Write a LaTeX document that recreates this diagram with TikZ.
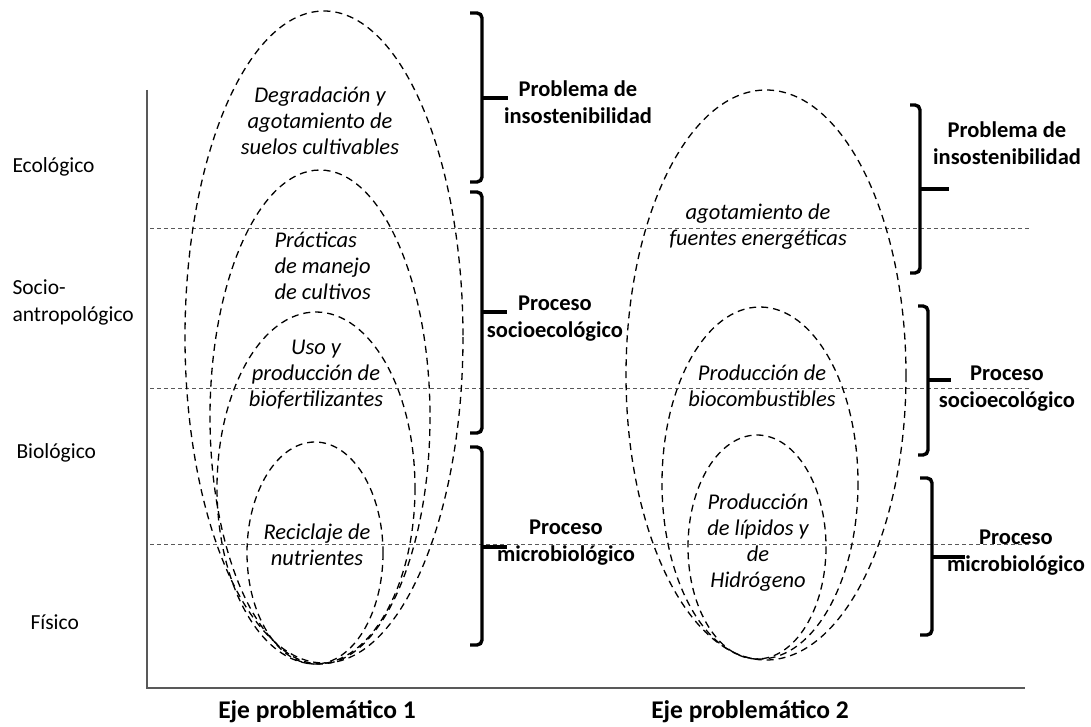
\documentclass[tikz,border=0pt]{standalone}
\usepackage{fontspec}
\setmainfont{Carlito}
\begin{document}
\begin{tikzpicture}[x=1pt,y=-1pt,
  nivel/.style={font=\fontsize{21.5}{27}\selectfont, align=left, anchor=west},
  texto/.style={font=\fontsize{22.5}{26}\selectfont\itshape, align=center},
  rotulo/.style={font=\fontsize{22.5}{27}\selectfont\bfseries, align=center},
  eje/.style={font=\fontsize{25.5}{30}\selectfont\bfseries},
  elipse/.style={line width=1.3pt, dash pattern=on 7pt off 5pt},
  franja/.style={line width=0.8pt, gray!70!black, dash pattern=on 4pt off 3pt},
  corchete/.style={line width=3.4pt, rounded corners=5pt}]
  \useasboundingbox (0,0) rectangle (1091,727);
  \draw[gray!70!black, line width=1.3pt] (147,90) -- (147,688) -- (1025,688);
  \draw[franja] (150,228) -- (1030,228);
  \draw[franja] (150,388) -- (1030,388);
  \draw[franja] (150,544) -- (1030,544);

  \node[nivel] (ecologico) at (9,167) {Ecológico};
  \node[nivel] (socio) at (9,302) {Socio-\\antropológico};
  \node[nivel] (biologico) at (13,453) {Biológico};
  \node[nivel] (fisico) at (27,622) {Físico};

  \draw[elipse] (324,337) ellipse [x radius=139, y radius=326];
  \draw[elipse] (320,417) ellipse [x radius=110, y radius=247];
  \draw[elipse] (316,488) ellipse [x radius=99, y radius=176];
  \draw[elipse] (315,553) ellipse [x radius=68, y radius=111];
  \draw[elipse] (766,375) ellipse [x radius=140, y radius=285];
  \draw[elipse] (760,483) ellipse [x radius=98, y radius=176];
  \draw[elipse] (757,547) ellipse [x radius=69, y radius=112];

  \node[texto] (degradacion) at (320,121) {Degradación y\\agotamiento de\\suelos cultivables};
  \node[texto, align=left, anchor=west] (practicas) at (271,266) {Prácticas\\de manejo\\de cultivos};
  \node[texto] (biofert) at (316,375) {Uso y\\producción de\\biofertilizantes};
  \node[texto] (reciclaje) at (317,545) {Reciclaje de\\nutrientes};
  \node[texto] (agotamiento) at (758,227) {agotamiento de\\fuentes energéticas};
  \node[texto] (biocomb) at (762,386) {Producción de\\biocombustibles};
  \node[texto] (lipidos) at (758,543) {Producción\\de lípidos y\\de\\Hidrógeno};

  \draw[corchete] (470,13) -- (482,13) -- (482,182) -- (470,182);
  \draw[line width=3.4pt] (482,98) -- (508,98);
  \draw[corchete] (470,192) -- (482,192) -- (482,433) -- (470,433);
  \draw[line width=3.4pt] (482,312) -- (507,312);
  \draw[corchete] (470,447) -- (482,447) -- (482,645) -- (470,645);
  \draw[line width=3.4pt] (482,547) -- (507,547);
  \draw[corchete] (910,105) -- (920,105) -- (920,273) -- (910,273);
  \draw[line width=3.4pt] (920,189) -- (949,189);
  \draw[corchete] (918,306) -- (928,306) -- (928,455) -- (918,455);
  \draw[line width=3.4pt] (928,380) -- (951,380);
  \draw[corchete] (920,478) -- (932,478) -- (932,635) -- (920,635);
  \draw[line width=3.4pt] (932,557) -- (965,557);

  \node[rotulo] (problema1) at (578,102) {Problema de\\insostenibilidad};
  \node[rotulo] (socioeco1) at (555,319) {Proceso\\socioecológico};
  \node[rotulo] (micro1) at (566,543) {Proceso\\microbiológico};
  \node[rotulo] (problema2) at (1007,143) {Problema de\\insostenibilidad};
  \node[rotulo] (socioeco2) at (1007,389) {Proceso\\socioecológico};
  \node[rotulo] (micro2) at (1016,553) {Proceso\\microbiológico};

  \node[eje] (eje1) at (317,712) {Eje problemático 1};
  \node[eje] (eje2) at (750,712) {Eje problemático 2};
\end{tikzpicture}
\end{document}
